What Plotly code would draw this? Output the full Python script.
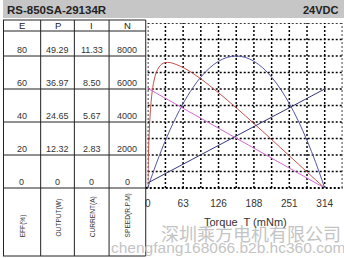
import plotly.graph_objects as go

# ---------------- data ----------------
TITLE = "RS-850SA-29134R"
VOLTAGE = "24VDC"
COL_HEADERS = ["E", "P", "I", "N"]
COL_LABELS = ["EFF(%)", "OUTPUT(W)", "CURRENT(A)", "SPEED(R.P.M)"]
EFF_TICKS = ["80", "60", "40", "20", "0"]
OUT_TICKS = ["49.29", "36.97", "24.65", "12.32", "0"]
CUR_TICKS = ["11.33", "8.50", "5.67", "2.83", "0"]
SPD_TICKS = ["8000", "6000", "4000", "2000", "0"]
X_TICK_LABELS = ["0", "63", "126", "188", "251", "314"]
X_TICK_VALUES = [0, 62.8, 125.6, 188.4, 251.2, 314]
X_LABEL = "Torque  T (mNm)"
WATERMARK_CN = "深圳乘方电机有限公司"
WATERMARK_URL = "chengfang168066.b2b.hc360.com"

TORQUE = [0, 1, 2, 3, 4, 6, 8, 10, 15, 20, 25, 30, 40, 50, 63, 80, 94, 110,
          126, 141, 157, 173, 188, 204, 220, 236, 251, 267, 283, 298, 314]
EFFICIENCY = [0, 16.2, 27.7, 36.3, 42.9, 52.3, 58.7, 63.2, 69.9, 73.3, 75.1,
              75.9, 76.0, 74.9, 73.0, 69.5, 66.2, 62.0, 57.6, 53.3, 48.6, 43.8,
              39.2, 34.3, 29.3, 24.3, 19.6, 14.6, 9.6, 4.9, 0]
OUTPUT = [0, 0.63, 1.25, 1.87, 2.48, 3.69, 4.90, 6.08, 8.97, 11.76, 14.45,
          17.03, 21.92, 26.40, 31.62, 37.44, 41.36, 44.87, 47.37, 48.78, 49.29,
          48.78, 47.37, 44.87, 41.36, 36.81, 31.62, 25.10, 17.54, 9.54, 0]
LINE_TORQUE = [0, 314]
SPEED = [6040, 0]
CURRENT = [0.43, 8.50]

# ---------------- geometry helpers (pixels -> paper) ----------------
W, H = 344, 258


def X(px):
    return px / W


def Y(py):
    return 1 - py / H


PLOT_L, PLOT_R, PLOT_T, PLOT_B = 146, 342.4, 23, 188
ROW_LINES = [56, 89, 122, 155, 188]
COL_LINES = [0.5, 38, 72, 107, 144]
COL_CENTERS = [19, 55, 89.5, 125.5]
FONT = "Arial, Liberation Sans, sans-serif"
DOT = "2px,2px"
GRID_W = 1.5

x_step = X_TICK_VALUES[1] / 2
x_max = x_step * 11
grid_vals = [i * x_step for i in range(12)]
grid_text = []
for i in range(12):
    grid_text.append(X_TICK_LABELS[i // 2] if i % 2 == 0 and i // 2 < len(X_TICK_LABELS) else "")

top_scale = 100.0 / float(EFF_TICKS[0])
p_max = float(OUT_TICKS[0]) * top_scale
i_max = float(CUR_TICKS[0]) * top_scale
n_max = float(SPD_TICKS[0]) * top_scale

fig = go.Figure()
fig.add_trace(go.Scatter(x=LINE_TORQUE, y=SPEED, mode="lines", yaxis="y4",
                         line=dict(color="#d468d4", width=1), hoverinfo="skip"))
fig.add_trace(go.Scatter(x=LINE_TORQUE, y=CURRENT, mode="lines", yaxis="y3",
                         line=dict(color="#343878", width=1), hoverinfo="skip"))
fig.add_trace(go.Scatter(x=TORQUE, y=OUTPUT, mode="lines", yaxis="y2", line_shape="spline",
                         line=dict(color="#5454a4", width=1), hoverinfo="skip"))
fig.add_trace(go.Scatter(x=TORQUE, y=EFFICIENCY, mode="lines", yaxis="y", line_shape="spline",
                         line=dict(color="#c4504c", width=1), hoverinfo="skip"))

shapes = []
# title bar
shapes.append(dict(type="rect", xref="paper", yref="paper", x0=0, x1=1, y0=Y(18), y1=1,
                   fillcolor="#c6c6c6", line=dict(width=0), layer="below"))
# dotted grid (data coordinates of the main axes), includes the frame edges
for gv in grid_vals:
    shapes.append(dict(type="line", xref="x", yref="paper", x0=gv, x1=gv, y0=Y(PLOT_B), y1=Y(PLOT_T),
                       line=dict(color="#000", width=GRID_W, dash=DOT), layer="below"))
for gy in range(10, 101, 10):
    shapes.append(dict(type="line", xref="paper", yref="y", x0=X(PLOT_L), x1=X(PLOT_R), y0=gy, y1=gy,
                       line=dict(color="#000", width=GRID_W, dash=DOT), layer="below"))
# bottom edge of plot, heavier
shapes.append(dict(type="line", xref="paper", yref="paper", x0=X(144), x1=X(PLOT_R),
                   y0=Y(PLOT_B), y1=Y(PLOT_B), line=dict(color="#000", width=1.8, dash=DOT)))
# table lines
for yy in [20, 31] + ROW_LINES + [256]:
    shapes.append(dict(type="line", xref="paper", yref="paper", x0=X(0), x1=X(144),
                       y0=Y(yy), y1=Y(yy), line=dict(color="#222", width=1)))
for xx in COL_LINES:
    shapes.append(dict(type="line", xref="paper", yref="paper", x0=X(xx), x1=X(xx),
                       y0=Y(20), y1=Y(256), line=dict(color="#222", width=1)))

ann = []
# watermark first (underneath)
ann.append(dict(xref="paper", yref="paper", x=X(250), y=Y(233), text=WATERMARK_CN,
                showarrow=False, xanchor="center", yanchor="middle",
                font=dict(family="Noto Sans CJK SC", size=18, color="#c4c4c4")))
ann.append(dict(xref="paper", yref="paper", x=X(107), y=Y(247), text=WATERMARK_URL,
                showarrow=False, xanchor="left", yanchor="middle",
                font=dict(family=FONT, size=15.5, color="#c4c4c4")))
# title bar texts
ann.append(dict(xref="paper", yref="paper", x=X(2), y=Y(10), text="<b>%s</b>" % TITLE,
                showarrow=False, xanchor="left", yanchor="middle",
                font=dict(family=FONT, size=11.5, color="#222")))
ann.append(dict(xref="paper", yref="paper", x=X(341), y=Y(10), text="<b>%s</b>" % VOLTAGE,
                showarrow=False, xanchor="right", yanchor="middle",
                font=dict(family=FONT, size=11, color="#222")))
# headers
for cx, h in zip(COL_CENTERS, COL_HEADERS):
    ann.append(dict(xref="paper", yref="paper", x=X(cx), y=Y(26), text=h, showarrow=False,
                    xanchor="center", yanchor="middle", font=dict(family=FONT, size=9.5, color="#222")))
# values
cols = [EFF_TICKS, OUT_TICKS, CUR_TICKS, SPD_TICKS]
for cx, col in zip(COL_CENTERS, cols):
    for ly, v in zip(ROW_LINES, col):
        ann.append(dict(xref="paper", yref="paper", x=X(cx), y=Y(ly - 6.3), text=v, showarrow=False,
                        xanchor="center", yanchor="middle",
                        font=dict(family=FONT, size=9, color="#333")))
# rotated labels
for cx, lab in zip(COL_CENTERS, COL_LABELS):
    ann.append(dict(xref="paper", yref="paper", x=X(cx + 1), y=Y(239), text=lab, showarrow=False,
                    textangle=-90, xanchor="center", yanchor="bottom",
                    font=dict(family=FONT, size=6.6, color="#333")))
# x-axis label
ann.append(dict(xref="paper", yref="paper", x=X(244.5), y=Y(222), text=X_LABEL.replace("  ", "&nbsp; "),
                showarrow=False, xanchor="center", yanchor="middle",
                font=dict(family=FONT, size=11, color="#333")))

fig.update_layout(
    width=W, height=H, margin=dict(l=0, r=0, t=0, b=0),
    paper_bgcolor="white", plot_bgcolor="rgba(0,0,0,0)", showlegend=False,
    shapes=shapes, annotations=ann,
    xaxis=dict(domain=[X(PLOT_L), X(PLOT_R)], range=[0, x_max], tickmode="array",
               tickvals=grid_vals, ticktext=grid_text, ticks="outside", ticklen=6,
               tickcolor="rgba(0,0,0,0)", tickfont=dict(family=FONT, size=10, color="#333"),
               showgrid=False, zeroline=False, showline=False, fixedrange=True),
    yaxis=dict(domain=[Y(PLOT_B), Y(PLOT_T)], range=[0, 100],
               showticklabels=False, showgrid=False, zeroline=False, showline=False,
               ticks="", fixedrange=True),
    yaxis2=dict(overlaying="y", range=[0, p_max], visible=False),
    yaxis3=dict(overlaying="y", range=[0, i_max], visible=False),
    yaxis4=dict(overlaying="y", range=[0, n_max], visible=False),
)

fig.write_html("out.html")
